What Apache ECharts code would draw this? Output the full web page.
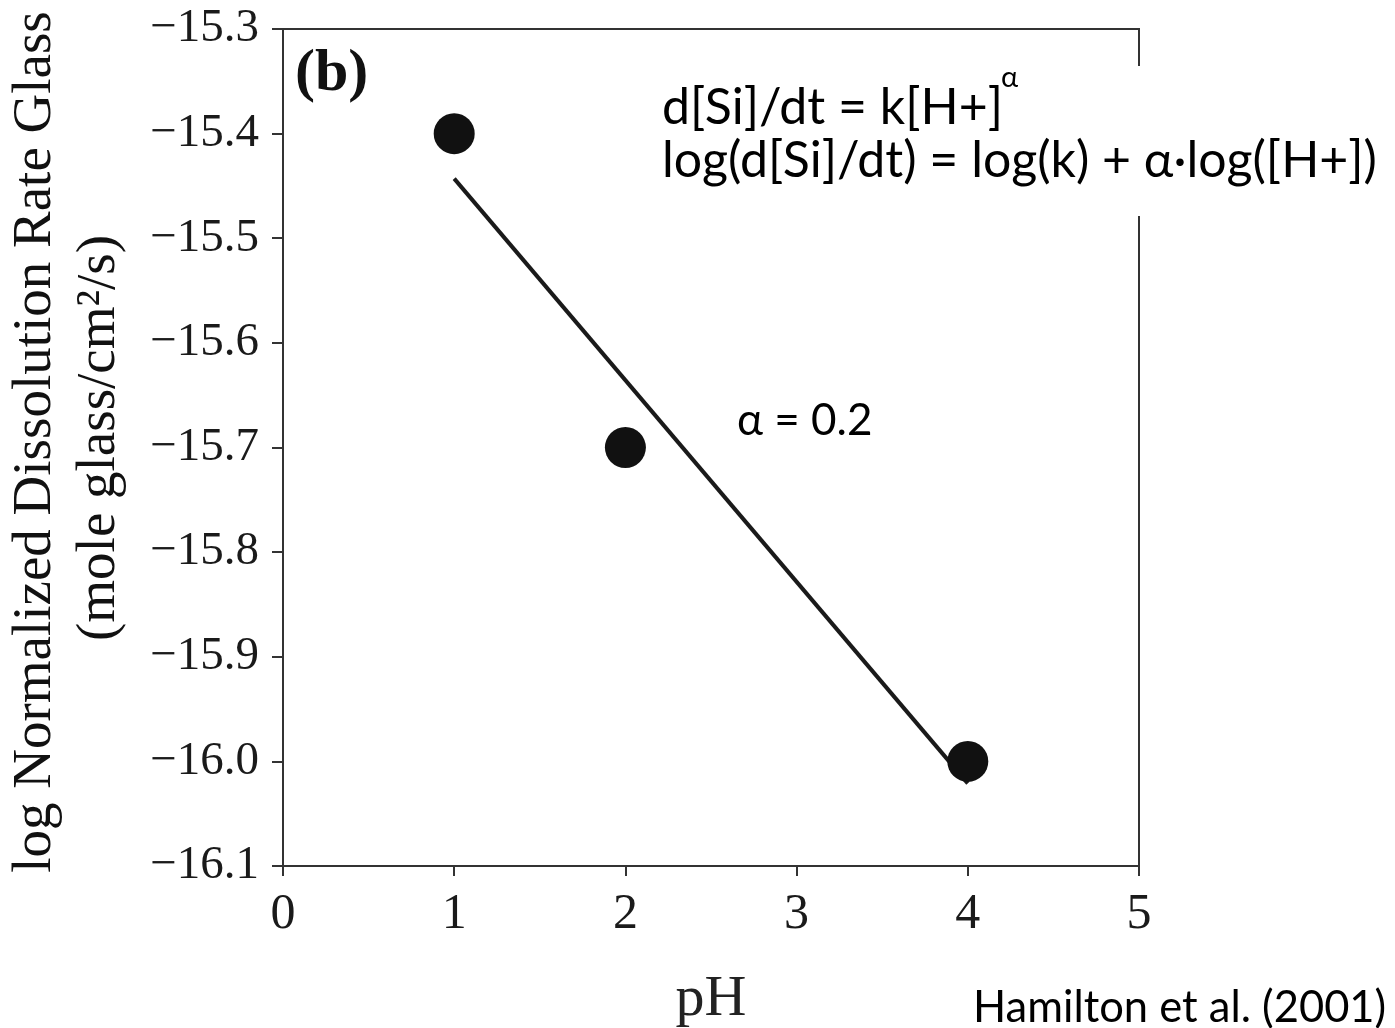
<!DOCTYPE html>
<html>
<head>
<meta charset="utf-8">
<script src="https://cdn.jsdelivr.net/npm/echarts@6/dist/echarts.min.js"></script>
<style>
  html, body { margin: 0; padding: 0; background: #fff; }
  #chart { width: 1395px; height: 1028px; }
</style>
</head>
<body>
<div id="chart"></div>
<script>
// Measured glass dissolution rates vs. pH
const phValues = [1, 2, 4];
const logRate = [-15.40, -15.70, -16.00];

// Least-squares fit line endpoints
const fitPh = [1, 4];
const fitLogRate = [-15.443, -16.021];

// Axis ranges
const xRange = [0, 5];
const yRange = [-16.1, -15.3];

const serif = "'Liberation Serif', 'Times New Roman', serif";
const sans = "Lato, 'Open Sans', sans-serif";
const ink = '#1a1a1a';

const fmtMinus = v => (v < 0 ? '\u2212' : '') + Math.abs(v).toFixed(1);

const chart = echarts.init(document.getElementById('chart'));
chart.setOption({
  animation: false,
  backgroundColor: '#fff',
  grid: {
    left: 283, top: 29, right: 256, bottom: 162,
    show: true, borderColor: '#333', borderWidth: 2, backgroundColor: 'transparent'
  },
  xAxis: {
    type: 'value', min: xRange[0], max: xRange[1], interval: 1,
    axisLine: { onZero: false, lineStyle: { color: '#333', width: 2 } },
    axisTick: { show: true, length: 10, lineStyle: { color: '#333', width: 2 } },
    axisLabel: { fontFamily: serif, fontSize: 50, color: ink, margin: 24 },
    splitLine: { show: false }
  },
  yAxis: {
    type: 'value', min: yRange[0], max: yRange[1], interval: 0.1,
    axisLine: { onZero: false, lineStyle: { color: '#333', width: 2 } },
    axisTick: { show: true, length: 11, lineStyle: { color: '#333', width: 2 } },
    axisLabel: {
      fontFamily: serif, fontSize: 47, color: ink, margin: 24,
      padding: [0, 0, 6, 0], formatter: fmtMinus
    },
    splitLine: { show: false }
  },
  series: [
    {
      type: 'line',
      data: fitPh.map((x, i) => [x, fitLogRate[i]]),
      symbol: 'none',
      lineStyle: { color: ink, width: 4 },
      z: 2
    },
    {
      type: 'scatter',
      data: phValues.map((x, i) => [x, logRate[i]]),
      symbol: 'circle',
      symbolSize: 41,
      itemStyle: { color: '#111', opacity: 1 },
      z: 3
    }
  ],
  graphic: [
    // y-axis title, two rotated lines
    {
      type: 'text', x: 36, y: 442, rotation: Math.PI / 2, z: 50,
      style: {
        text: 'log Normalized Dissolution Rate Glass',
        font: '55px ' + serif, fill: '#111',
        textAlign: 'center', textVerticalAlign: 'middle'
      }
    },
    {
      type: 'text', x: 100, y: 438, rotation: Math.PI / 2, z: 50,
      style: {
        text: '(mole glass/cm\u00B2/s)',
        font: '55px ' + serif, fill: '#111',
        textAlign: 'center', textVerticalAlign: 'middle'
      }
    },
    // x-axis title
    {
      type: 'text', x: 711, y: 1000, z: 50,
      style: {
        text: 'pH', font: '58px ' + serif, fill: '#222',
        textAlign: 'center', textVerticalAlign: 'middle'
      }
    },
    // panel tag
    {
      type: 'text', x: 295, y: 74, z: 50,
      style: {
        text: '(b)', font: 'bold 60px ' + serif, fill: '#111',
        textAlign: 'left', textVerticalAlign: 'middle'
      }
    },
    // rate-law box (white backing interrupts the right frame)
    {
      type: 'rect', z: 90,
      shape: { x: 655, y: 66, width: 735, height: 150 },
      style: { fill: '#fff' }
    },
    {
      type: 'text', x: 662, y: 108, z: 100,
      style: {
        text: 'd[Si]/dt = k[H+]', font: '50px ' + sans, fill: '#000',
        textAlign: 'left', textVerticalAlign: 'middle'
      }
    },
    {
      type: 'text', x: 1001, y: 78, z: 100,
      style: {
        text: '\u03B1', font: '29px ' + sans, fill: '#000',
        textAlign: 'left', textVerticalAlign: 'middle'
      }
    },
    {
      type: 'text', x: 662, y: 161, z: 100,
      style: {
        text: 'log(d[Si]/dt) = log(k) + \u03B1\u00B7log([H+])', font: '50px ' + sans, fill: '#000',
        textAlign: 'left', textVerticalAlign: 'middle'
      }
    },
    // fitted exponent
    {
      type: 'text', x: 737, y: 421, z: 50,
      style: {
        text: '\u03B1 = 0.2', font: '44px ' + sans, fill: '#000',
        textAlign: 'left', textVerticalAlign: 'middle'
      }
    },
    // source
    {
      type: 'text', x: 973, y: 1008, z: 50,
      style: {
        text: 'Hamilton et al. (2001)', font: '43.5px ' + sans, fill: '#000',
        textAlign: 'left', textVerticalAlign: 'middle'
      }
    }
  ]
});
</script>
</body>
</html>
